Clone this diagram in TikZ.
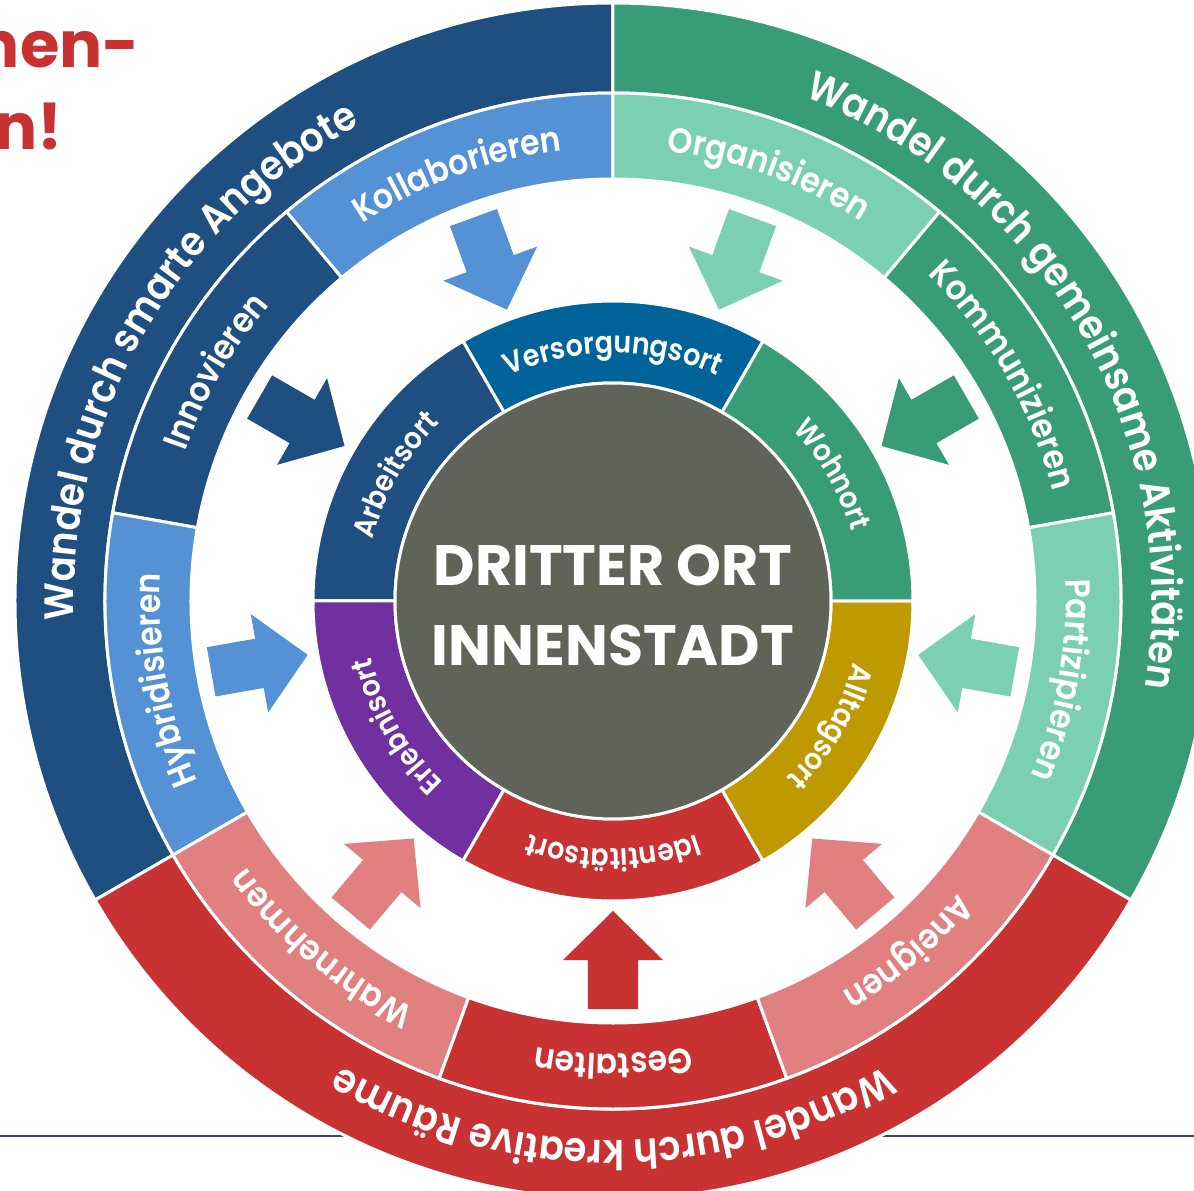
\documentclass[tikz,border=0pt]{standalone}
\usepackage{fontspec}
\setmainfont{Poppins}
\IfFontExistsTF{Poppins SemiBold}{\newfontfamily\ringfont{Poppins SemiBold}[FakeStretch=0.9]}{\newcommand\ringfont{\bfseries}}
\usetikzlibrary{decorations.text}
\definecolor{darkblue}{HTML}{1F4E80}
\definecolor{lightblue}{HTML}{5592D5}
\definecolor{seablue}{HTML}{00649A}
\definecolor{darkgreen}{HTML}{389C76}
\definecolor{lightgreen}{HTML}{7CD0B2}
\definecolor{darkred}{HTML}{C83232}
\definecolor{pink}{HTML}{E08080}
\definecolor{purple}{HTML}{7030A0}
\definecolor{gold}{HTML}{BF9900}
\definecolor{core}{HTML}{606458}
\definecolor{rulegray}{HTML}{3C4363}

\begin{document}
\begin{tikzpicture}[x=1pt,y=1pt,
  sector/.style={draw=white, line width=3pt},
  curved/.style 2 args={decorate, decoration={text along path, text align=center,
    text={|\ringfont\fontsize{#1}{#1}\selectfont\color{white}|#2}}}]
\useasboundingbox (-613,-590) rectangle (581,601);

% title rest and rule
\node[anchor=base east, inner sep=0pt, text=darkred, font=\bfseries\fontsize{64}{64}\selectfont] (title1) at (-473,533) {nen-};
\node[anchor=base east, inner sep=0pt, text=darkred, font=\bfseries\fontsize{64}{64}\selectfont] (title2) at (-550,451) {n!};
\draw[rulegray, line width=2.5pt] (-613,-535) -- (581,-535);

% outer ring
\draw[sector, fill=darkblue] (210:508pt) arc[start angle=210, end angle=90, radius=508pt] -- (90:598pt) arc[start angle=90, end angle=210, radius=598pt] -- cycle;
\draw[sector, fill=darkgreen] (90:508pt) arc[start angle=90, end angle=-30, radius=508pt] -- (-30:598pt) arc[start angle=-30, end angle=90, radius=598pt] -- cycle;
\draw[sector, fill=darkred] (330:508pt) arc[start angle=330, end angle=210, radius=508pt] -- (210:598pt) arc[start angle=210, end angle=330, radius=598pt] -- cycle;

% middle ring
\draw[sector, fill=lightblue] (130:422pt) arc[start angle=130, end angle=90, radius=422pt] -- (90:508pt) arc[start angle=90, end angle=130, radius=508pt] -- cycle;
\draw[sector, fill=darkblue] (170:422pt) arc[start angle=170, end angle=130, radius=422pt] -- (130:508pt) arc[start angle=130, end angle=170, radius=508pt] -- cycle;
\draw[sector, fill=lightblue] (210:422pt) arc[start angle=210, end angle=170, radius=422pt] -- (170:508pt) arc[start angle=170, end angle=210, radius=508pt] -- cycle;
\draw[sector, fill=lightgreen] (90:422pt) arc[start angle=90, end angle=50, radius=422pt] -- (50:508pt) arc[start angle=50, end angle=90, radius=508pt] -- cycle;
\draw[sector, fill=darkgreen] (50:422pt) arc[start angle=50, end angle=10, radius=422pt] -- (10:508pt) arc[start angle=10, end angle=50, radius=508pt] -- cycle;
\draw[sector, fill=lightgreen] (10:422pt) arc[start angle=10, end angle=-30, radius=422pt] -- (-30:508pt) arc[start angle=-30, end angle=10, radius=508pt] -- cycle;
\draw[sector, fill=pink] (250:422pt) arc[start angle=250, end angle=210, radius=422pt] -- (210:508pt) arc[start angle=210, end angle=250, radius=508pt] -- cycle;
\draw[sector, fill=darkred] (290:422pt) arc[start angle=290, end angle=250, radius=422pt] -- (250:508pt) arc[start angle=250, end angle=290, radius=508pt] -- cycle;
\draw[sector, fill=pink] (330:422pt) arc[start angle=330, end angle=290, radius=422pt] -- (290:508pt) arc[start angle=290, end angle=330, radius=508pt] -- cycle;

% inner ring
\draw[sector, fill=seablue] (120:218pt) arc[start angle=120, end angle=60, radius=218pt] -- (60:300pt) arc[start angle=60, end angle=120, radius=300pt] -- cycle;
\draw[sector, fill=darkblue] (180:218pt) arc[start angle=180, end angle=120, radius=218pt] -- (120:300pt) arc[start angle=120, end angle=180, radius=300pt] -- cycle;
\draw[sector, fill=purple] (240:218pt) arc[start angle=240, end angle=180, radius=218pt] -- (180:300pt) arc[start angle=180, end angle=240, radius=300pt] -- cycle;
\draw[sector, fill=darkred] (300:218pt) arc[start angle=300, end angle=240, radius=218pt] -- (240:300pt) arc[start angle=240, end angle=300, radius=300pt] -- cycle;
\draw[sector, fill=gold] (360:218pt) arc[start angle=360, end angle=300, radius=218pt] -- (300:300pt) arc[start angle=300, end angle=360, radius=300pt] -- cycle;
\draw[sector, fill=darkgreen] (60:218pt) arc[start angle=60, end angle=0, radius=218pt] -- (0:300pt) arc[start angle=0, end angle=60, radius=300pt] -- cycle;

% core
\draw[sector, fill=core] (0,0) circle[radius=218pt];
\node[align=center, inner sep=0pt, text=white, font=\bfseries\fontsize{57}{80}\selectfont] (core) at (0,-4) {DRITTER ORT\\INNENSTADT};

% arrows pointing in
\fill[lightblue, rotate=110] (408,25) -- (359,25) -- (359,50) -- (310,0) -- (359,-50) -- (359,-25) -- (408,-25) -- cycle;
\fill[darkblue, rotate=150] (408,25) -- (359,25) -- (359,50) -- (310,0) -- (359,-50) -- (359,-25) -- (408,-25) -- cycle;
\fill[lightblue, rotate=190] (408,25) -- (359,25) -- (359,50) -- (310,0) -- (359,-50) -- (359,-25) -- (408,-25) -- cycle;
\fill[lightgreen, rotate=70] (408,25) -- (359,25) -- (359,50) -- (310,0) -- (359,-50) -- (359,-25) -- (408,-25) -- cycle;
\fill[darkgreen, rotate=30] (408,25) -- (359,25) -- (359,50) -- (310,0) -- (359,-50) -- (359,-25) -- (408,-25) -- cycle;
\fill[lightgreen, rotate=-10] (408,25) -- (359,25) -- (359,50) -- (310,0) -- (359,-50) -- (359,-25) -- (408,-25) -- cycle;
\fill[pink, rotate=230] (408,25) -- (359,25) -- (359,50) -- (310,0) -- (359,-50) -- (359,-25) -- (408,-25) -- cycle;
\fill[darkred, rotate=270] (408,25) -- (359,25) -- (359,50) -- (310,0) -- (359,-50) -- (359,-25) -- (408,-25) -- cycle;
\fill[pink, rotate=310] (408,25) -- (359,25) -- (359,50) -- (310,0) -- (359,-50) -- (359,-25) -- (408,-25) -- cycle;

% outer texts
\path[curved={41}{Wandel durch smarte Angebote}] (210:539pt) arc[start angle=210, end angle=90, radius=539pt];
\path[curved={41}{Wandel durch gemeinsame Aktivitäten}] (90:539pt) arc[start angle=90, end angle=-30, radius=539pt];
\path[curved={41}{Wandel durch kreative Räume}] (330:539pt) arc[start angle=330, end angle=210, radius=539pt];

% middle texts
\path[curved={35}{Kollaborieren}] (130:453pt) arc[start angle=130, end angle=90, radius=453pt];
\path[curved={35}{Innovieren}] (170:453pt) arc[start angle=170, end angle=130, radius=453pt];
\path[curved={35}{Hybridisieren}] (210:453pt) arc[start angle=210, end angle=170, radius=453pt];
\path[curved={35}{Organisieren}] (90:453pt) arc[start angle=90, end angle=50, radius=453pt];
\path[curved={35}{Kommunizieren}] (50:453pt) arc[start angle=50, end angle=10, radius=453pt];
\path[curved={35}{Partizipieren}] (10:453pt) arc[start angle=10, end angle=-30, radius=453pt];
\path[curved={35}{Wahrnehmen}] (250:453pt) arc[start angle=250, end angle=210, radius=453pt];
\path[curved={35}{Gestalten}] (290:453pt) arc[start angle=290, end angle=250, radius=453pt];
\path[curved={35}{Aneignen}] (330:453pt) arc[start angle=330, end angle=290, radius=453pt];

% inner texts
\path[curved={30}{Versorgungsort}] (120:248pt) arc[start angle=120, end angle=60, radius=248pt];
\path[curved={30}{Arbeitsort}] (180:248pt) arc[start angle=180, end angle=120, radius=248pt];
\path[curved={30}{Erlebnisort}] (240:248pt) arc[start angle=240, end angle=180, radius=248pt];
\path[curved={30}{Identitätsort}] (300:248pt) arc[start angle=300, end angle=240, radius=248pt];
\path[curved={30}{Alltagsort}] (360:248pt) arc[start angle=360, end angle=300, radius=248pt];
\path[curved={30}{Wohnort}] (60:248pt) arc[start angle=60, end angle=0, radius=248pt];

\end{tikzpicture}
\end{document}
